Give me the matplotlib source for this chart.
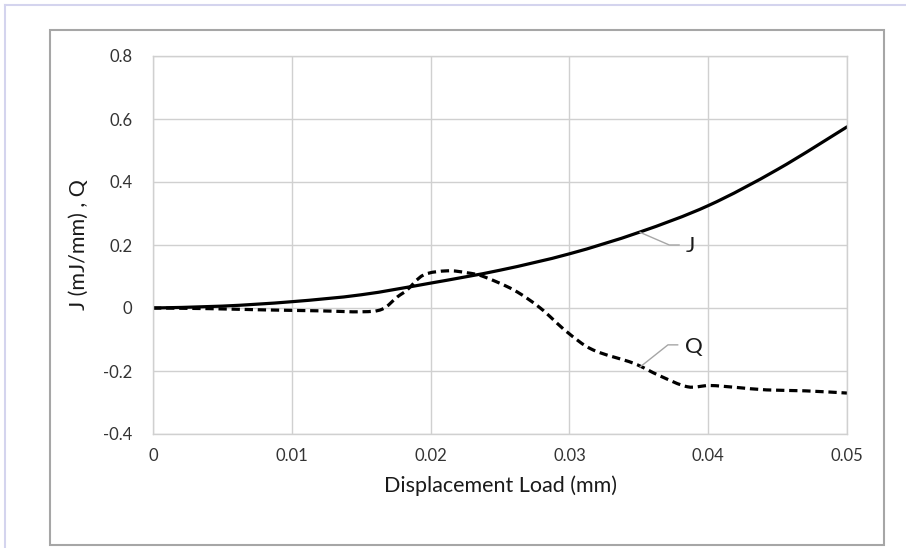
import numpy as np
import matplotlib.pyplot as plt
from matplotlib.lines import Line2D
from matplotlib.patches import Rectangle, PathPatch
from matplotlib.path import Path

# --- data ---
x_j = [0, 0.005, 0.01, 0.015, 0.02, 0.025, 0.03, 0.035, 0.04, 0.045, 0.05]
j_vals = [0, 0.006, 0.02, 0.042, 0.079, 0.12, 0.172, 0.24, 0.325, 0.44, 0.575]

x_q = [0, 0.004, 0.008, 0.012, 0.015, 0.0165, 0.0176, 0.0183, 0.0195, 0.0212,
       0.0226, 0.0238, 0.026, 0.0279, 0.0298, 0.0317, 0.0346, 0.0365, 0.0385,
       0.0401, 0.042, 0.0442, 0.047, 0.05]
q_vals = [0, -0.002, -0.006, -0.009, -0.012, -0.004, 0.035, 0.057, 0.105, 0.118,
          0.112, 0.10, 0.057, 0.0, -0.075, -0.133, -0.175, -0.215, -0.25,
          -0.246, -0.252, -0.26, -0.263, -0.27]

x_ticks = [0, 0.01, 0.02, 0.03, 0.04, 0.05]
x_tick_labels = ['0', '0.01', '0.02', '0.03', '0.04', '0.05']
y_ticks = [-0.4, -0.2, 0, 0.2, 0.4, 0.6, 0.8]
y_tick_labels = ['-0.4', '-0.2', '0', '0.2', '0.4', '0.6', '0.8']

plt.rcParams['font.family'] = ['Lato', 'DejaVu Sans']


def smooth_path(xs, ys):
    # Excel-style smoothed line: Catmull-Rom segments as cubic Beziers
    p = np.column_stack([xs, ys]).astype(float)
    n = len(p)
    verts = [p[0]]
    codes = [Path.MOVETO]
    for i in range(n - 1):
        p0 = p[i - 1] if i > 0 else p[i]
        p1, p2 = p[i], p[i + 1]
        p3 = p[i + 2] if i + 2 < n else p[i + 1]
        c1 = p1 + (p2 - p0) / 6
        c2 = p2 - (p3 - p1) / 6
        verts += [c1, c2, p2]
        codes += [Path.CURVE4] * 3
    return Path(verts, codes)


W, H = 906, 548
fig = plt.figure(figsize=(W / 100, H / 100), dpi=100)

# outer frame (lavender) and chart border (gray)
fig.add_artist(Line2D([5 / W, 1], [1 - 5 / H, 1 - 5 / H], color='#d4d4ee', lw=1.5))
fig.add_artist(Line2D([5 / W, 5 / W], [0, 1 - 5 / H], color='#d4d4ee', lw=1.5))
fig.add_artist(Rectangle((50 / W, 3 / H), (884 - 50) / W, (545 - 30) / H,
                         transform=fig.transFigure, fill=False,
                         edgecolor='#a6a6a6', lw=1.5))

ax = fig.add_axes([153 / W, (H - 434) / H, (847 - 153) / W, (434 - 56) / H])

ax.add_patch(PathPatch(smooth_path(x_j, j_vals), fill=False, edgecolor='black',
                       lw=2.3, capstyle='round'))
ax.add_patch(PathPatch(smooth_path(x_q, q_vals), fill=False, edgecolor='black',
                       lw=2.3, linestyle=(0, (2.6, 1.5))))

ax.set_xlim(0, 0.05)
ax.set_ylim(-0.4, 0.8)
ax.set_xticks(x_ticks)
ax.set_xticklabels(x_tick_labels)
ax.set_yticks(y_ticks)
ax.set_yticklabels(y_tick_labels)
ax.tick_params(length=0, labelsize=12, colors='#333333', pad=10)
ax.tick_params(axis='y', pad=15)
ax.grid(True, color='#d0d0d0', lw=1)
ax.set_axisbelow(True)
for s in ax.spines.values():
    s.set_color('#d0d0d0')
    s.set_linewidth(1)

ax.set_xlabel('Displacement Load (mm)', fontsize=15.5, color='#1a1a1a', labelpad=8)
ax.set_ylabel('J (mJ/mm) , Q', fontsize=15.5, color='#1a1a1a', labelpad=10)

# callout labels with leader lines
ax.plot([0.0351, 0.0372, 0.0379], [0.24, 0.2, 0.2], color='#a6a6a6', lw=1)
ax.text(0.0384, 0.196, 'J', fontsize=16, color='#1a1a1a', va='center', ha='left')
ax.plot([0.0351, 0.0371, 0.0378], [-0.187, -0.117, -0.117], color='#a6a6a6', lw=1)
ax.text(0.0383, -0.125, 'Q', fontsize=16, color='#1a1a1a', va='center', ha='left')

fig.savefig('out.png', dpi=100)
